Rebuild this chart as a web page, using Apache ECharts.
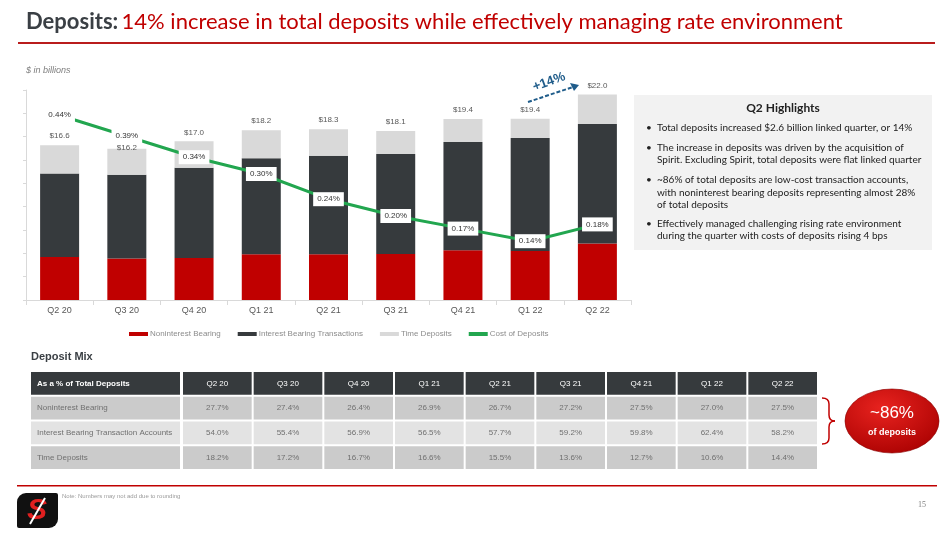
<!DOCTYPE html>
<html>
<head>
<meta charset="utf-8">
<script src="https://cdn.jsdelivr.net/npm/echarts@6/dist/echarts.min.js"></script>
<style>
  html, body { margin: 0; padding: 0; background: #fff; }
  #main { width: 950px; height: 534px; }
</style>
</head>
<body>
<div id="main"></div>
<script>
// quarters on the axis and in the table
var quarters = ['Q2 20', 'Q3 20', 'Q4 20', 'Q1 21', 'Q2 21', 'Q3 21', 'Q4 21', 'Q1 22', 'Q2 22'];

// deposits, $ billions
var nonInterest     = [4.60, 4.44, 4.49, 4.90, 4.89, 4.92, 5.34, 5.24, 6.05];
var interestBearing = [8.96, 8.97, 9.67, 10.28, 10.56, 10.72, 11.60, 12.11, 12.80];
var timeDeposits    = [3.02, 2.79, 2.84, 3.02, 2.84, 2.46, 2.46, 2.06, 3.17];
var totalLabels     = ['$16.6', '$16.2', '$17.0', '$18.2', '$18.3', '$18.1', '$19.4', '$19.4', '$22.0'];

// cost of deposits, %
var costOfDeposits = [0.44, 0.39, 0.34, 0.30, 0.24, 0.20, 0.17, 0.14, 0.18];

// deposit mix table
var tableRows = ['As a % of Total Deposits', 'Noninterest Bearing', 'Interest Bearing Transaction Accounts', 'Time Deposits'];
var nibPct = ['27.7%', '27.4%', '26.4%', '26.9%', '26.7%', '27.2%', '27.5%', '27.0%', '27.5%'];
var ibtPct = ['54.0%', '55.4%', '56.9%', '56.5%', '57.7%', '59.2%', '59.8%', '62.4%', '58.2%'];
var tdPct  = ['18.2%', '17.2%', '16.7%', '16.6%', '15.5%', '13.6%', '12.7%', '10.6%', '14.4%'];

var RED = '#c00000', DARK = '#363a3d', LIGHT = '#d9d9d9', GREEN = '#22a64f';

// cells of the table: col -1 is the row label column
var cells = [];
var rowValues = [quarters, nibPct, ibtPct, tdPct];
rowValues.forEach(function (vals, r) {
  cells.push({ col: -1, row: r, text: tableRows[r] });
  vals.forEach(function (v, c) { cells.push({ col: c, row: r, text: v }); });
});

function renderCell(params, api) {
  var cell = cells[params.dataIndex];
  var size = api.size([1, 1]);
  var pt = api.coord([Math.max(cell.col, 0), cell.row]);
  var h = size[1] - 2;
  var y = pt[1] - size[1] / 2 + 1;
  var x, w;
  if (cell.col < 0) {
    x = params.coordSys.x - 151;
    w = 149;
  } else {
    x = pt[0] - size[0] / 2 + 1;
    w = size[0] - 2;
  }
  var fill = cell.row === 0 ? DARK : (cell.row === 2 ? '#e3e3e3' : '#cbcbcb');
  var isHead = cell.row === 0;
  return {
    type: 'group',
    children: [
      { type: 'rect', shape: { x: x, y: y, width: w, height: h }, style: { fill: fill } },
      {
        type: 'text',
        x: cell.col < 0 ? x + 6 : x + w / 2,
        y: y + h / 2,
        style: {
          text: cell.text,
          fill: isHead ? '#fff' : '#707070',
          fontSize: 8,
          fontWeight: isHead && cell.col < 0 ? 'bold' : 'normal',
          fontFamily: 'Liberation Sans',
          align: cell.col < 0 ? 'left' : 'center',
          verticalAlign: 'middle'
        }
      }
    ]
  };
}

var myChart = echarts.init(document.getElementById('main'));

var totalsData = timeDeposits.map(function (v, i) {
  // Q3 20 total sits lower to clear the line label
  if (i === 1) return { value: v, label: { offset: [0, 8] } };
  return v;
});

var bulletLines = [
  [128, 'Total deposits increased $2.6 billion linked quarter, or 14%', true],
  [147.5, 'The increase in deposits was driven by the acquisition of', true],
  [159.5, 'Spirit. Excluding Spirit, total deposits were flat linked quarter', false],
  [180, '~86% of total deposits are low-cost transaction accounts,', true],
  [192.5, 'with noninterest bearing deposits representing almost 28%', false],
  [205, 'of total deposits', false],
  [224, 'Effectively managed challenging rising rate environment', true],
  [236, 'during the quarter with costs of deposits rising 4 bps', false]
];
var bulletGraphics = [];
bulletLines.forEach(function (l) {
  bulletGraphics.push({
    type: 'text', x: 657, y: l[0],
    style: { text: l[1], fill: '#222', fontSize: 10, fontFamily: 'Lato', verticalAlign: 'middle' }
  });
  if (l[2]) bulletGraphics.push({
    type: 'text', x: 646, y: l[0],
    style: { text: '•', fill: '#222', fontSize: 10, fontFamily: 'Lato', verticalAlign: 'middle' }
  });
});

var bracketStyle = { stroke: '#c00000', lineWidth: 1.5, fill: null };
var bracket = [
  { type: 'bezierCurve', shape: { x1: 822, y1: 398, cpx1: 829, cpy1: 398, x2: 829, y2: 404 }, style: bracketStyle },
  { type: 'line', shape: { x1: 829, y1: 404, x2: 829, y2: 415 }, style: bracketStyle },
  { type: 'bezierCurve', shape: { x1: 829, y1: 415, cpx1: 829, cpy1: 421, x2: 835, y2: 421 }, style: bracketStyle },
  { type: 'bezierCurve', shape: { x1: 835, y1: 421, cpx1: 829, cpy1: 421, x2: 829, y2: 427 }, style: bracketStyle },
  { type: 'line', shape: { x1: 829, y1: 427, x2: 829, y2: 438 }, style: bracketStyle },
  { type: 'bezierCurve', shape: { x1: 829, y1: 438, cpx1: 829, cpy1: 444, x2: 822, y2: 444 }, style: bracketStyle }
];

var option = {
  backgroundColor: '#fff',
  animation: false,
  textStyle: { fontFamily: 'Liberation Sans' },
  grid: [
    { left: 26, right: 319, top: 90, bottom: 234 },
    { left: 182, right: 132, top: 371, bottom: 64 }
  ],
  legend: {
    left: 124, top: 325, itemWidth: 19, itemHeight: 4, itemGap: 17, icon: 'rect',
    textStyle: { color: '#8c8c8c', fontSize: 8, padding: [0, 0, 0, -3] },
    data: ['Noninterest Bearing', 'Interest Bearing Transactions', 'Time Deposits', 'Cost of Deposits']
  },
  xAxis: [
    {
      type: 'category', data: quarters, gridIndex: 0,
      axisLine: { lineStyle: { color: '#d9d9d9' } },
      axisTick: { show: true, lineStyle: { color: '#d9d9d9' } },
      axisLabel: { color: '#595959', fontSize: 9, margin: 6 }
    },
    { type: 'category', data: quarters, gridIndex: 1, show: false }
  ],
  yAxis: [
    {
      type: 'value', min: 0, max: 22.5, interval: 2.5, gridIndex: 0,
      axisLine: { show: true, lineStyle: { color: '#d9d9d9' } },
      axisTick: { show: true, length: 3, lineStyle: { color: '#d9d9d9' } },
      axisLabel: { show: false }, splitLine: { show: false }
    },
    { type: 'value', min: 0, max: 0.5, gridIndex: 0, show: false, splitLine: { show: false } },
    { type: 'category', data: [0, 1, 2, 3], inverse: true, gridIndex: 1, show: false }
  ],
  series: [
    {
      name: 'Noninterest Bearing', type: 'bar', stack: 'dep', barWidth: 39,
      itemStyle: { color: RED }, data: nonInterest
    },
    {
      name: 'Interest Bearing Transactions', type: 'bar', stack: 'dep',
      itemStyle: { color: DARK }, data: interestBearing
    },
    {
      name: 'Time Deposits', type: 'bar', stack: 'dep',
      itemStyle: { color: LIGHT }, data: totalsData,
      label: {
        show: true, position: 'top', distance: 5, color: '#595959', fontSize: 8,
        formatter: function (p) { return totalLabels[p.dataIndex]; }
      }
    },
    {
      name: 'Cost of Deposits', type: 'line', yAxisIndex: 1, data: costOfDeposits,
      symbol: 'circle', symbolSize: 0.1, z: 5,
      lineStyle: { color: GREEN, width: 3 }, itemStyle: { color: GREEN },
      label: {
        show: true, position: 'inside', color: '#333', fontSize: 8,
        backgroundColor: '#fff', padding: [3, 4],
        formatter: function (p) { return p.value.toFixed(2) + '%'; }
      }
    },
    {
      name: 'table', type: 'custom', xAxisIndex: 1, yAxisIndex: 2,
      renderItem: renderCell, silent: true,
      data: cells.map(function (c) { return [Math.max(c.col, 0), c.row]; })
    }
  ],
  graphic: [
    // title
    {
      type: 'text', x: 26, y: 22,
      style: {
        text: '{a|Deposits:} {b|14% increase in total deposits while effectively managing rate environment}',
        verticalAlign: 'middle',
        rich: {
          a: { fill: '#3a3f44', fontSize: 22, fontWeight: 'bold', fontFamily: 'Lato' },
          b: { fill: '#c00000', fontSize: 22, fontFamily: 'Lato' }
        }
      }
    },
    { type: 'rect', shape: { x: 18, y: 42, width: 917, height: 2 }, style: { fill: '#b91c1c' } },
    {
      type: 'text', x: 26, y: 70,
      style: { text: '$ in billions', fill: '#7f7f7f', fontSize: 9, fontStyle: 'italic', fontFamily: 'Liberation Sans', verticalAlign: 'middle' }
    },
    // +14% arrow
    {
      type: 'line', shape: { x1: 528, y1: 102, x2: 573, y2: 87 },
      style: { stroke: '#1f5c8a', lineWidth: 2, lineDash: [4, 2] }
    },
    {
      type: 'polygon', shape: { points: [[579, 85], [570, 83], [574, 91]] },
      style: { fill: '#1f5c8a' }
    },
    {
      type: 'text', x: 549, y: 82, rotation: 0.35,
      style: { text: '+14%', fill: '#1f5c8a', fontSize: 13, fontWeight: 'bold', fontFamily: 'Liberation Sans', align: 'center', verticalAlign: 'middle' }
    },
    // highlights box
    { type: 'rect', shape: { x: 634, y: 95, width: 298, height: 155 }, style: { fill: '#f2f2f2' } },
    {
      type: 'text', x: 783, y: 108,
      style: { text: 'Q2 Highlights', fill: '#222', fontSize: 12, fontWeight: 'bold', fontFamily: 'Lato', align: 'center', verticalAlign: 'middle' }
    },
    { type: 'group', children: bulletGraphics },
    // table heading
    {
      type: 'text', x: 31, y: 357,
      style: { text: 'Deposit Mix', fill: '#3a3f44', fontSize: 11, fontWeight: 'bold', fontFamily: 'Liberation Sans', verticalAlign: 'middle' }
    },
    { type: 'group', children: bracket },
    // bubble
    {
      type: 'circle', x: 892, y: 421, scaleX: 47 / 32,
      shape: { cx: 0, cy: 0, r: 32 },
      style: {
        fill: new echarts.graphic.RadialGradient(0.4, 0.3, 0.8, [
          { offset: 0, color: '#e8231f' }, { offset: 1, color: '#a80000' }
        ]),
        stroke: '#8a0000', lineWidth: 0.5
      }
    },
    {
      type: 'text', x: 892, y: 413,
      style: { text: '~86%', fill: '#fff', fontSize: 17, fontFamily: 'Liberation Sans', align: 'center', verticalAlign: 'middle' }
    },
    {
      type: 'text', x: 892, y: 433,
      style: { text: 'of deposits', fill: '#fff', fontSize: 9, fontWeight: 'bold', fontFamily: 'Liberation Sans', align: 'center', verticalAlign: 'middle' }
    },
    // footer
    { type: 'rect', shape: { x: 17, y: 485, width: 920, height: 1.5 }, style: { fill: '#c00000' } },
    {
      type: 'text', x: 62, y: 496,
      style: { text: 'Note: Numbers may not add due to rounding', fill: '#9a9a9a', fontSize: 6, fontFamily: 'Liberation Sans', verticalAlign: 'middle' }
    },
    {
      type: 'text', x: 926, y: 505,
      style: { text: '15', fill: '#7f7f7f', fontSize: 8, fontFamily: 'Liberation Serif', align: 'right', verticalAlign: 'middle' }
    },
    // logo
    { type: 'rect', shape: { x: 17, y: 493, width: 41, height: 35, r: [9, 2, 9, 2] }, style: { fill: '#111' } },
    {
      type: 'text', x: 37, y: 511,
      style: { text: 'S', fill: '#e02020', fontSize: 30, fontWeight: 'bold', fontStyle: 'italic', fontFamily: 'Liberation Sans', align: 'center', verticalAlign: 'middle' }
    },
    { type: 'line', shape: { x1: 30, y1: 524, x2: 45, y2: 498 }, style: { stroke: '#fff', lineWidth: 2 } }
  ]
};

myChart.setOption(option);
</script>
</body>
</html>
